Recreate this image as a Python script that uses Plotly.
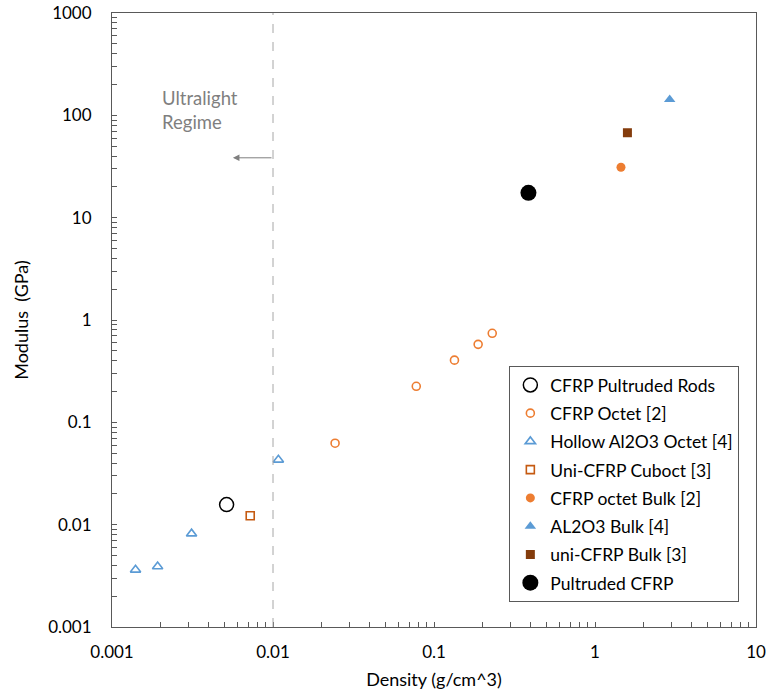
import plotly.graph_objects as go

# ---- data ----
rods_x = [0.00515]
rods_y = [0.0157]

octet_x = [0.0243, 0.0776, 0.134, 0.188, 0.230]
octet_y = [0.0625, 0.225, 0.405, 0.578, 0.741]

hollow_x = [0.0014, 0.00192, 0.00312, 0.0108]
hollow_y = [0.00362, 0.0039, 0.00817, 0.043]

cuboct_x = [0.00722]
cuboct_y = [0.01224]

octbulk_x = [1.45]
octbulk_y = [31.1]

albulk_x = [2.91]
albulk_y = [143]

unibulk_x = [1.59]
unibulk_y = [67.6]

pult_x = [0.386]
pult_y = [17.5]

x_tickvals = [0.001, 0.01, 0.1, 1, 10]
x_ticktext = ["0.001", "0.01", "0.1", "1", "10"]
y_tickvals = [0.001, 0.01, 0.1, 1, 10, 100, 1000]
y_ticktext = ["0.001", "0.01", "0.1", "1", "10", "100", "1000"]

FONT = "Lato"
AXC = "#595959"
ORANGE = "#ED7D31"
BLUE = "#5B9BD5"
RUST = "#C55A11"
BROWN = "#843C0C"

series = [
    ("CFRP Pultruded Rods", rods_x, rods_y, dict(symbol="circle-open", size=14, color="#000000", line=dict(width=1.5))),
    ("CFRP Octet [2]", octet_x, octet_y, dict(symbol="circle-open", size=8, color=ORANGE, line=dict(width=1.6))),
    ("Hollow Al2O3 Octet [4]", hollow_x, hollow_y, dict(symbol="triangle-up-open", size=9, color=BLUE, line=dict(width=1.6))),
    ("Uni-CFRP Cuboct [3]", cuboct_x, cuboct_y, dict(symbol="square-open", size=8, color=RUST, line=dict(width=1.6))),
    ("CFRP octet Bulk [2]", octbulk_x, octbulk_y, dict(symbol="circle", size=9, color=ORANGE)),
    ("AL2O3 Bulk [4]", albulk_x, albulk_y, dict(symbol="triangle-up", size=10, color=BLUE)),
    ("uni-CFRP Bulk [3]", unibulk_x, unibulk_y, dict(symbol="square", size=9, color=BROWN)),
    ("Pultruded CFRP", pult_x, pult_y, dict(symbol="circle", size=16, color="#000000")),
]

fig = go.Figure()
for name, xs, ys, mk in series:
    fig.add_trace(go.Scatter(x=xs, y=ys, mode="markers", name=name, marker=mk,
                             legendgroup=name))

fig.add_vline(x=0.01, line=dict(color="#A6A6A6", width=1, dash="dash"))

fig.add_annotation(x=-2.70, y=2.05, xref="x", yref="y", text="Ultralight<br>Regime",
                   showarrow=False, xanchor="left", yanchor="middle", align="left",
                   font=dict(family=FONT, size=18.5, color="#7F7F7F"))
fig.add_annotation(x=-2.249, y=1.585, ax=-2.0, ay=1.585, xref="x", yref="y",
                   axref="x", ayref="y", text="", showarrow=True, arrowhead=2,
                   arrowsize=1.3, arrowwidth=1, arrowcolor="#7F7F7F")

axis_common = dict(
    type="log", showgrid=False, zeroline=False, showline=True, linecolor=AXC,
    linewidth=1, mirror=True, ticks="inside", ticklen=5, tickcolor=AXC,
    automargin=False,
    tickfont=dict(family=FONT, size=17, color="#000000"),
    minor=dict(ticks="inside", ticklen=5, tickcolor=AXC, dtick="D1", showgrid=False),
)

fig.update_xaxes(**axis_common, range=[-3, 1], tickvals=x_tickvals, ticktext=x_ticktext,
                 ticklabelstandoff=10,
                 title=dict(text="Density (g/cm^3)", font=dict(family=FONT, size=18, color="#000000"), standoff=11))
fig.update_yaxes(**axis_common, range=[-3, 3], tickvals=y_tickvals, ticktext=y_ticktext,
                 ticklabelstandoff=16,
                 title=dict(text="Modulus\u00a0 (GPa)", font=dict(family=FONT, size=18, color="#000000"), standoff=14))

fig.update_layout(
    width=774, height=693,
    margin=dict(l=112, r=18, t=13, b=66, autoexpand=False),
    plot_bgcolor="white", paper_bgcolor="white",
    font=dict(family=FONT, size=17, color="#000000"),
    legend=dict(x=0.617, y=0.425, xanchor="left", yanchor="top",
                bordercolor=AXC, borderwidth=1, bgcolor="white",
                font=dict(family=FONT, size=17.5, color="#000000"),
                tracegroupgap=2.5, itemsizing="trace"),
)

fig.write_html("out.html", config={"displayModeBar": False},
               post_script="document.body.style.margin='0';document.body.style.overflow='hidden';")
